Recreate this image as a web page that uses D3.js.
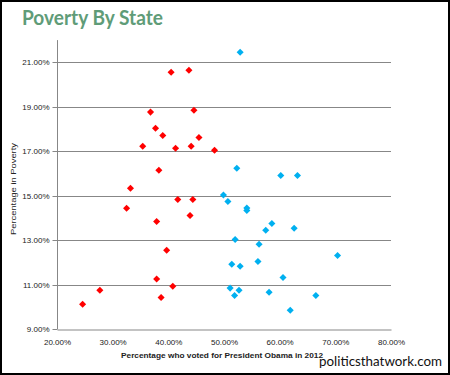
<!DOCTYPE html>
<html>
<head>
<meta charset="utf-8">
<script src="https://cdn.jsdelivr.net/npm/d3@7"></script>
<style>
  html, body { margin: 0; padding: 0; background: #fff; }
  svg { display: block; }
</style>
</head>
<body>
<svg id="chart" width="450" height="375"></svg>
<script>
// Data: [percent voted Obama 2012, percent in poverty]
const obamaStatesVote = [52.9, 52.3, 60.2, 63.2, 49.9, 50.7, 54.1, 54.1, 58.6, 57.5, 62.6, 52.0, 56.3, 70.4, 51.4, 52.9, 56.1, 60.6, 51.1, 52.7, 51.9, 58.1, 66.5, 61.9];
const obamaStatesPoverty = [21.45, 16.23, 15.91, 15.91, 15.03, 14.74, 14.44, 14.33, 13.75, 13.44, 13.53, 13.03, 12.81, 12.31, 11.91, 11.82, 12.04, 11.32, 10.84, 10.74, 10.51, 10.65, 10.51, 9.84];
const romneyStatesVote = [40.5, 43.7, 36.8, 44.6, 37.7, 39.0, 45.5, 35.4, 41.3, 44.1, 48.3, 38.3, 33.2, 41.7, 44.4, 32.5, 37.9, 43.9, 39.7, 37.9, 40.8, 27.7, 38.7, 24.6];
const romneyStatesPoverty = [20.55, 20.64, 18.76, 18.84, 18.03, 17.71, 17.62, 17.22, 17.13, 17.22, 17.04, 16.14, 15.33, 14.83, 14.83, 14.43, 13.84, 14.11, 12.54, 11.25, 10.92, 10.74, 10.42, 10.11];
const xTicks = [20, 30, 40, 50, 60, 70, 80];
const yTicks = [9, 11, 13, 15, 17, 19, 21];

const title = "Poverty By State";
const xTitle = "Percentage who voted for President Obama  in 2012";
const yTitle = "Percentage in Poverty";
const watermark = "politicsthatwork.com";

const svg = d3.select("#chart");
const x = d3.scaleLinear().domain([20, 80]).range([57, 391]);
const y = d3.scaleLinear().domain([9, 22]).range([329, 40.1]);

// white background and frame
svg.append("rect").attr("x", 0).attr("y", 0).attr("width", 450).attr("height", 375).attr("fill", "#fff");

// title
svg.append("text").attr("x", 22).attr("y", 25)
  .attr("font-family", "Lato, 'Open Sans', sans-serif").attr("font-weight", "bold")
  .attr("font-size", 20).attr("fill", "#5f9c78")
  .attr("textLength", 141).attr("lengthAdjust", "spacingAndGlyphs")
  .text(title);

// gridlines
svg.append("g").selectAll("line").data(yTicks.filter(d => d !== 9)).join("line")
  .attr("x1", x(20)).attr("x2", x(80))
  .attr("y1", d => Math.round(y(d)) + 0.5).attr("y2", d => Math.round(y(d)) + 0.5)
  .attr("stroke", "#878787").attr("stroke-width", 1);

// y axis
const yAxis = svg.append("g").attr("transform", `translate(${Math.round(x(20)) + 0.5},0)`)
  .call(d3.axisLeft(y).tickValues(yTicks).tickSize(5).tickPadding(3)
    .tickFormat(d => d.toFixed(2) + "%"));
yAxis.select(".domain").attr("stroke", "#878787").attr("d", `M0,${y(22)}V${y(9)}`);
yAxis.selectAll(".tick line").attr("stroke", "#878787");
yAxis.selectAll(".tick").attr("transform", d => `translate(0,${Math.round(y(d)) + 0.5})`);
yAxis.selectAll("text").attr("font-family", "'Liberation Sans', Arial, sans-serif")
  .attr("font-size", 8).attr("fill", "#222");

// x axis
const xAxis = svg.append("g").attr("transform", `translate(0,${Math.round(y(9)) + 0.5})`)
  .call(d3.axisBottom(x).tickValues(xTicks).tickSize(0).tickPadding(10)
    .tickFormat(d => d.toFixed(2) + "%"));
xAxis.select(".domain").attr("stroke", "#878787");
xAxis.selectAll("text").attr("font-family", "'Liberation Sans', Arial, sans-serif")
  .attr("font-size", 8).attr("fill", "#222");

// axis titles
svg.append("text").attr("x", 222).attr("y", 358).attr("text-anchor", "middle")
  .attr("font-family", "'Liberation Sans', Arial, sans-serif").attr("font-weight", "bold")
  .attr("font-size", 8).attr("fill", "#222")
  .attr("textLength", 202).attr("lengthAdjust", "spacingAndGlyphs")
  .text(xTitle);
svg.append("text").attr("transform", "translate(16,189) rotate(-90)").attr("text-anchor", "middle")
  .attr("font-family", "'Liberation Sans', Arial, sans-serif")
  .attr("font-size", 8).attr("fill", "#222")
  .attr("textLength", 92).attr("lengthAdjust", "spacingAndGlyphs")
  .text(yTitle);

// points
const diamond = d3.symbol().type(d3.symbolSquare).size(25);
const series = [
  { vote: romneyStatesVote, pov: romneyStatesPoverty, color: "#ff0000" },
  { vote: obamaStatesVote, pov: obamaStatesPoverty, color: "#00b0f0" }
];
series.forEach(s => {
  svg.append("g").selectAll("path").data(s.vote.map((v, i) => [v, s.pov[i]])).join("path")
    .attr("d", diamond)
    .attr("transform", d => `translate(${x(d[0])},${y(d[1])}) rotate(45)`)
    .attr("fill", s.color);
});

// watermark
svg.append("text").attr("x", 319).attr("y", 366)
  .attr("font-family", "Lato, 'Open Sans', sans-serif").attr("font-size", 14).attr("fill", "#111")
  .attr("textLength", 123).attr("lengthAdjust", "spacingAndGlyphs")
  .text(watermark);

// frame
svg.append("rect").attr("x", 1).attr("y", 1).attr("width", 448).attr("height", 373)
  .attr("fill", "none").attr("stroke", "#000").attr("stroke-width", 2);
</script>
</body>
</html>
